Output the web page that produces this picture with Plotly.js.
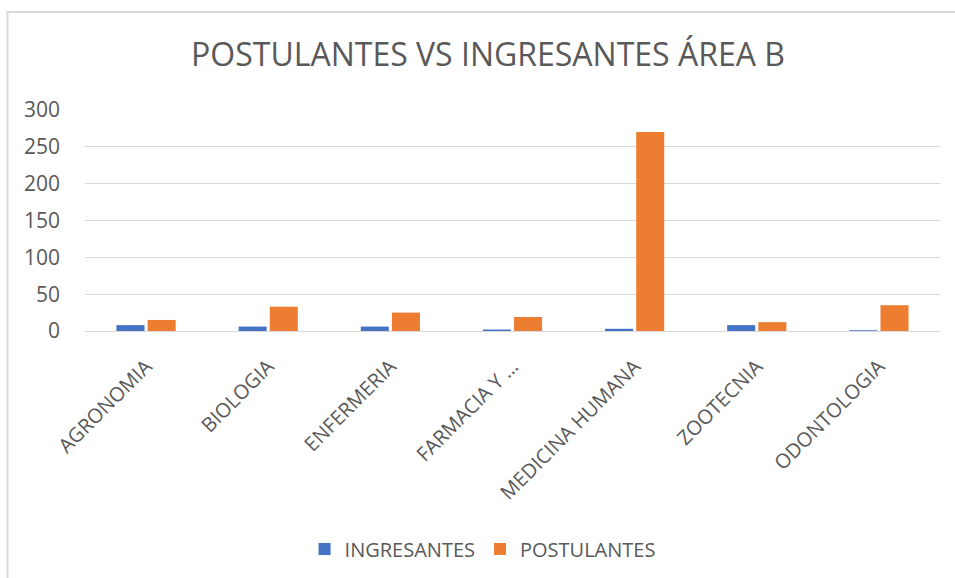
<!DOCTYPE html>
<html><head><meta charset="utf-8">
<script src="https://cdn.plot.ly/plotly-3.0.1.min.js"></script>
<style>html,body{margin:0;padding:0;background:#fff}#chart{width:955px;height:578px}</style>
</head><body><div id="chart"></div>
<script>
const categories = ["AGRONOMIA","BIOLOGIA","ENFERMERIA","FARMACIA Y …","MEDICINA HUMANA","ZOOTECNIA","ODONTOLOGIA"];
const ingresantes = [8, 6, 6, 2, 3, 8, 1];
const postulantes = [15, 33, 25, 19, 270, 12, 35];
const yTicks = [0, 50, 100, 150, 200, 250, 300];

const font = "'Open Sans', 'Liberation Sans', sans-serif";
const grey = "#595959";
const M = {l: 85, r: 15, t: 110, b: 246};
const W = 955, H = 578;
const pw = W - M.l - M.r, ph = H - M.t - M.b;
const px = v => (v - M.l) / pw;
const py = v => (H - M.b - v) / ph;

const traces = [
  {type: "bar", name: "INGRESANTES", x: categories, y: ingresantes, marker: {color: "#4472C4"}},
  {type: "bar", name: "POSTULANTES", x: categories, y: postulantes, marker: {color: "#ED7D31"}}
];
const layout = {
  width: W, height: H,
  margin: M,
  paper_bgcolor: "#fff", plot_bgcolor: "#fff",
  font: {family: font, color: grey},
  title: {text: "POSTULANTES VS INGRESANTES ÁREA B", font: {size: 32, color: grey, family: font}, x: 0.511, xanchor: "center", y: 1 - 55/H, yanchor: "middle"},
  barmode: "group", bargap: 0.49, bargroupgap: 0.1,
  xaxis: {tickangle: -45, tickfont: {size: 20, color: grey}, showline: false, ticks: "", automargin: false, ticklabelstandoff: 19},
  yaxis: {range: [0, 300], tickvals: yTicks, ticktext: yTicks.map(String), tickfont: {size: 21, color: grey},
          gridcolor: "#d9d9d9", gridwidth: 1, zeroline: true, zerolinecolor: "#d9d9d9", zerolinewidth: 1, ticks: "", automargin: false, fixedrange: true, ticklabelstandoff: 24},
  showlegend: true,
  legend: {orientation: "h", x: 0.465, xanchor: "center", y: py(549), yanchor: "middle", font: {size: 20, color: grey}, itemwidth: 30},
  shapes: [
    {type: "rect", xref: "paper", yref: "paper", x0: px(7.5), x1: px(960), y0: py(11.5), y1: py(590), line: {color: "#d9d9d9", width: 2}, fillcolor: "rgba(0,0,0,0)", layer: "below"}
  ]
};
Plotly.newPlot("chart", traces, layout, {displayModeBar: false, staticPlot: true});
</script></body></html>
